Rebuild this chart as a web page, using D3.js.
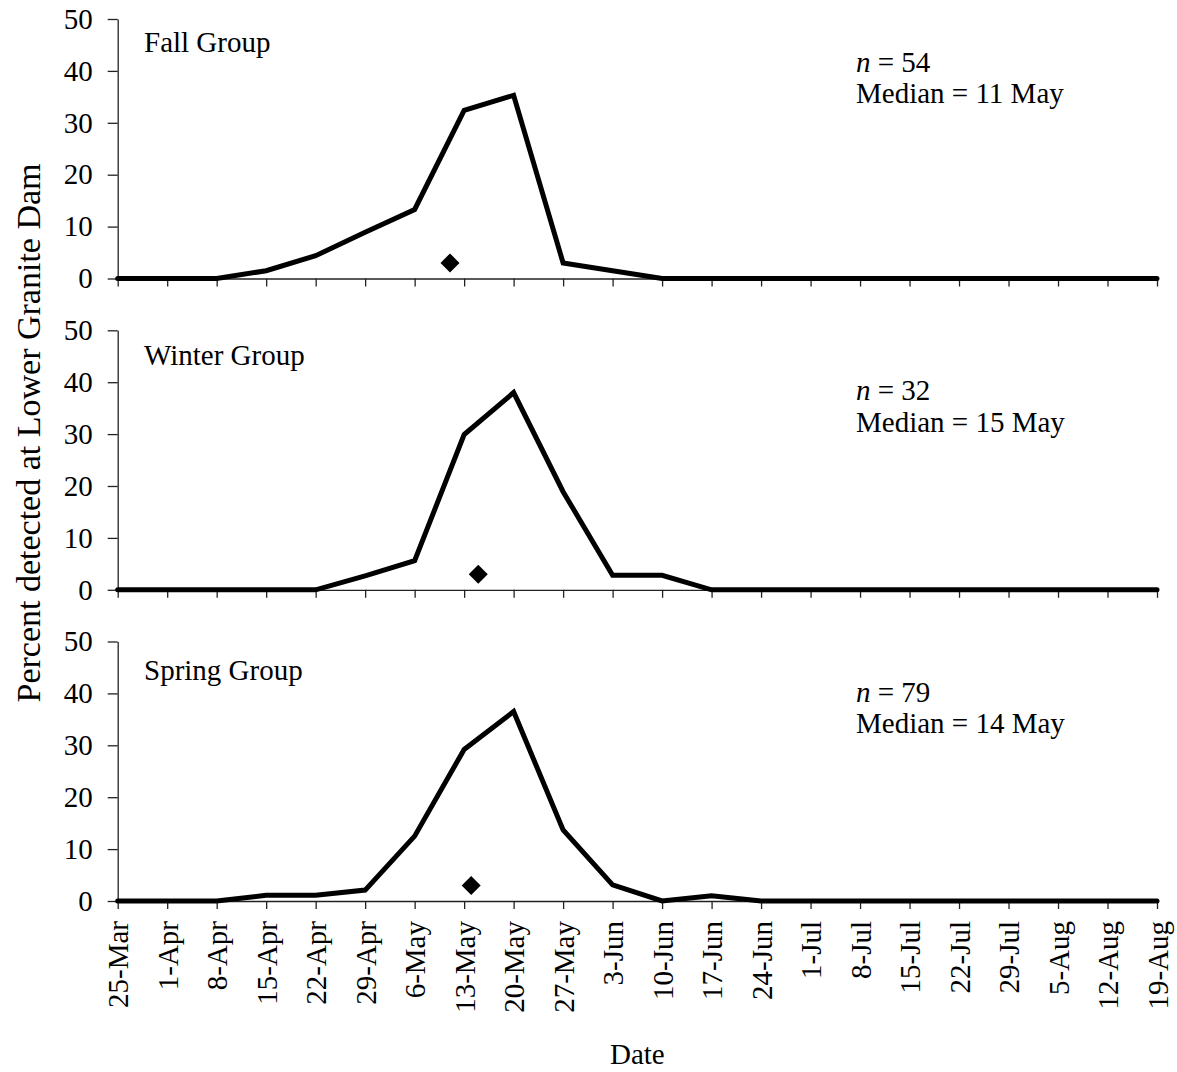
<!DOCTYPE html>
<html>
<head>
<meta charset="utf-8">
<script src="https://cdn.jsdelivr.net/npm/d3@7"></script>
<style>
  html, body { margin: 0; padding: 0; background: #fff; }
  svg { display: block; font-family: "Liberation Serif", "Times New Roman", serif; }
</style>
</head>
<body>
<svg id="chart" width="1177" height="1072"></svg>
<script>
// Weekly dates on the x axis
const weekLabels = ["25-Mar","1-Apr","8-Apr","15-Apr","22-Apr","29-Apr","6-May","13-May","20-May","27-May",
  "3-Jun","10-Jun","17-Jun","24-Jun","1-Jul","8-Jul","15-Jul","22-Jul","29-Jul","5-Aug","12-Aug","19-Aug"];

// Percent detected per week, one array per release group
const fallValues   = [0, 0, 0, 1.5, 4.4, 8.9, 13.3, 32.4, 35.3, 3.0, 1.5, 0, 0, 0, 0, 0, 0, 0, 0, 0, 0, 0];
const winterValues = [0, 0, 0, 0, 0, 2.7, 5.6, 29.9, 38.0, 18.9, 2.8, 2.8, 0, 0, 0, 0, 0, 0, 0, 0, 0, 0];
const springValues = [0, 0, 0, 1.1, 1.1, 2.1, 12.5, 29.2, 36.5, 13.7, 3.1, 0, 1.0, 0, 0, 0, 0, 0, 0, 0, 0, 0];

const groupNames   = ["Fall Group", "Winter Group", "Spring Group"];
const groupN       = [54, 32, 79];
const groupMedians = ["11-May", "15-May", "14-May"];
const medianLabels = ["11 May", "15 May", "14 May"];
const medianMarkerValue = 3;

const yTicks = [0, 10, 20, 30, 40, 50];

const parse = d3.timeParse("%d-%b");
const weekDates = weekLabels.map(parse);
const series = [fallValues, winterValues, springValues];

const svg = d3.select("#chart");
const left = 117.7, right = 1157;
const panelTops = [19, 330.3, 641.5];
const panelH = 259.5;
const fs = 29;

const x = d3.scaleTime()
  .domain([weekDates[0], weekDates[weekDates.length - 1]])
  .range([left, right]);

// Per-panel text offsets (relative to panel top)
const groupLabelDy = [33, 35, 38.5];
const nLabelDy = [52.7, 70, 60.4];

// filled diamond centred on (cx, cy)
const diamond = (cx, cy, r) => `M${cx},${cy - r}L${cx + r},${cy}L${cx},${cy + r}L${cx - r},${cy}Z`;

series.forEach((vals, i) => {
  const top = panelTops[i];
  const y = d3.scaleLinear().domain([0, 50]).range([top + panelH, top]);
  const g = svg.append("g");

  // y axis
  const ya = g.append("g")
    .attr("transform", `translate(${left},0)`)
    .call(d3.axisLeft(y).tickValues(yTicks).tickSize(10).tickPadding(15).tickSizeOuter(0));
  ya.select(".domain").attr("stroke", "#222").attr("stroke-width", 1.3);
  ya.selectAll(".tick line").attr("stroke", "#222").attr("stroke-width", 1.3);
  ya.selectAll(".tick text").attr("font-size", fs).attr("fill", "#000")
    .attr("font-family", "Liberation Serif");

  // x axis
  const xa = g.append("g")
    .attr("transform", `translate(0,${y(0)})`)
    .call(d3.axisBottom(x).tickValues(weekDates).tickSize(8).tickSizeOuter(0)
      .tickFormat((d, k) => weekLabels[k]));
  xa.select(".domain").attr("stroke", "#222").attr("stroke-width", 1.3);
  xa.selectAll(".tick line").attr("stroke", "#222").attr("stroke-width", 1.3);
  if (i === 2) {
    xa.selectAll(".tick text")
      .attr("font-size", fs).attr("fill", "#000")
      .attr("font-family", "Liberation Serif")
      .attr("text-anchor", "end")
      .attr("transform", "rotate(-90)")
      .attr("x", -20).attr("y", 0).attr("dy", "0.35em");
  } else {
    xa.selectAll(".tick text").remove();
  }

  // weekly detection line
  const line = d3.line()
    .x((d, k) => x(weekDates[k]))
    .y(d => y(d));
  g.append("path")
    .datum(vals)
    .attr("d", line)
    .attr("fill", "none")
    .attr("stroke", "#000")
    .attr("stroke-width", 5)
    .attr("stroke-linejoin", "miter")
    .attr("stroke-linecap", "round");

  // median marker
  g.append("path")
    .attr("d", diamond(x(parse(groupMedians[i])), y(medianMarkerValue), 9.5))
    .attr("fill", "#000");

  // group title
  g.append("text")
    .attr("x", 144).attr("y", top + groupLabelDy[i])
    .attr("font-size", fs).text(groupNames[i]);

  // sample size and median
  const t = g.append("text").attr("x", 856).attr("y", top + nLabelDy[i]).attr("font-size", fs);
  t.append("tspan").attr("font-style", "italic").text("n");
  t.append("tspan").text(` = ${groupN[i]}`);
  g.append("text").attr("x", 856).attr("y", top + nLabelDy[i] + 31.5)
    .attr("font-size", fs).text(`Median = ${medianLabels[i]}`);
});

// axis titles
svg.append("text")
  .attr("transform", "translate(40,433) rotate(-90)")
  .attr("text-anchor", "middle")
  .attr("font-size", 34)
  .text("Percent detected at Lower Granite Dam");

svg.append("text")
  .attr("x", (left + right) / 2).attr("y", 1064)
  .attr("text-anchor", "middle")
  .attr("font-size", fs)
  .text("Date");
</script>
</body>
</html>
